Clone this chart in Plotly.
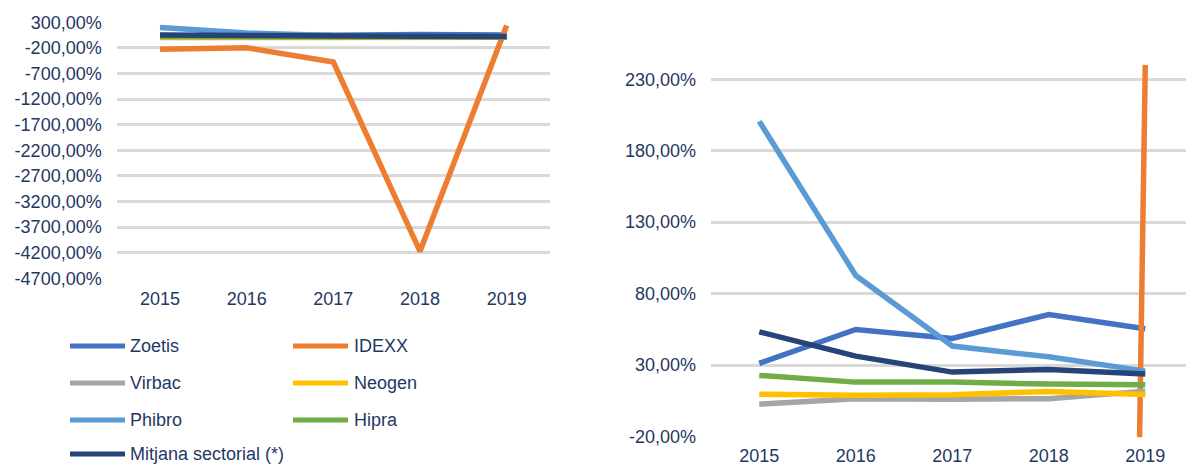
import plotly.graph_objects as go

# ---------------- data ----------------
years = ["2015", "2016", "2017", "2018", "2019"]
zoetis = [31.2, 54.9, 48.6, 65.4, 55.4]
idexx = [-225.0, -195.0, -475.0, -4175.0, 240.0]
virbac = [2.7, 6.5, 6.2, 6.5, 11.8]
neogen = [9.7, 9.0, 9.3, 11.6, 9.5]
phibro = [200.5, 92.7, 43.3, 35.8, 25.8]
hipra = [22.8, 18.1, 18.1, 16.7, 16.3]
mitjana = [53.3, 36.3, 25.1, 27.0, 23.7]

series_names = ["Zoetis", "IDEXX", "Virbac", "Neogen", "Phibro", "Hipra", "Mitjana sectorial (*)"]
series_values = [zoetis, idexx, virbac, neogen, phibro, hipra, mitjana]
series_colors = ["#4472C4", "#ED7D31", "#A5A5A5", "#FFC000", "#5B9BD5", "#70AD47", "#264478"]

left_tickvals = [300, -200, -700, -1200, -1700, -2200, -2700, -3200, -3700, -4200, -4700]
left_ticktext = ["300,00%", "-200,00%", "-700,00%", "-1200,00%", "-1700,00%", "-2200,00%",
                 "-2700,00%", "-3200,00%", "-3700,00%", "-4200,00%", "-4700,00%"]
right_tickvals = [-20, 30, 80, 130, 180, 230]
right_ticktext = ["-20,00%", "30,00%", "80,00%", "130,00%", "180,00%", "230,00%"]

# ---------------- layout helpers ----------------
W, H = 1186, 465
FONT = "Liberation Sans, Arial, sans-serif"
TXT = "#1F3864"
GRID = "#D9D9D9"


def px_x(x):
    return x / W


def px_y(y):
    return (H - y) / H


fig = go.Figure()

for name, vals, col in zip(series_names, series_values, series_colors):
    fig.add_trace(go.Scatter(x=years, y=vals, mode="lines", name=name,
                             line=dict(color=col, width=5.5),
                             xaxis="x", yaxis="y", showlegend=False))
for name, vals, col in zip(series_names, series_values, series_colors):
    fig.add_trace(go.Scatter(x=years, y=vals, mode="lines", name=name,
                             line=dict(color=col, width=5.5),
                             xaxis="x2", yaxis="y2", showlegend=False))

axis_font = dict(family=FONT, size=18, color=TXT)

fig.update_layout(
    width=W, height=H,
    margin=dict(l=0, r=0, t=0, b=0, autoexpand=False),
    paper_bgcolor="white", plot_bgcolor="white",
    font=dict(family=FONT, size=18, color=TXT),
    xaxis=dict(domain=[px_x(116.7), px_x(550)], range=[-0.5, 4.5], type="category",
               showgrid=False, zeroline=False, showline=False, ticks="",
               tickfont=axis_font, ticklabelstandoff=8, anchor="y", automargin=False),
    yaxis=dict(domain=[px_y(278.3), px_y(22.3)], range=[-4702, 302],
               tickvals=left_tickvals, ticktext=left_ticktext,
               showgrid=True, gridcolor=GRID, gridwidth=2.5, zeroline=False,
               showline=False, ticks="", tickfont=axis_font, ticklabelstandoff=14,
               anchor="x", automargin=False),
    xaxis2=dict(domain=[px_x(711), 1.0], range=[-0.5, 4.422], type="category",
                showgrid=False, zeroline=False, showline=False, ticks="",
                tickfont=axis_font, ticklabelstandoff=6, anchor="y2", automargin=False),
    yaxis2=dict(domain=[px_y(437.3), px_y(36.3)], range=[-20.5, 260],
                tickvals=right_tickvals, ticktext=right_ticktext,
                showgrid=True, gridcolor=GRID, gridwidth=2.5, zeroline=False,
                showline=False, ticks="", tickfont=axis_font, ticklabelstandoff=14,
                anchor="x2", automargin=False),
    showlegend=False,
)

# ---------------- manual legend (two columns) ----------------
row_y = [346, 383, 420, 454]
col_line_x = [(70, 125), (293, 348)]
col_text_x = [128, 352]
shapes = []
annotations = []
for i, (name, col) in enumerate(zip(series_names, series_colors)):
    r, c = divmod(i, 2)
    y = row_y[r]
    x0, x1 = col_line_x[c]
    shapes.append(dict(type="line", xref="paper", yref="paper",
                       x0=px_x(x0), x1=px_x(x1), y0=px_y(y), y1=px_y(y),
                       line=dict(color=col, width=5)))
    annotations.append(dict(xref="paper", yref="paper", x=px_x(col_text_x[c]), y=px_y(y),
                            text=name, showarrow=False, xanchor="left", yanchor="middle",
                            font=dict(family=FONT, size=18, color=TXT)))
fig.update_layout(shapes=shapes, annotations=annotations)

fig.write_html("out.html",
               config={"displayModeBar": False},
               post_script="document.body.style.margin='0';document.body.style.overflow='hidden';")
